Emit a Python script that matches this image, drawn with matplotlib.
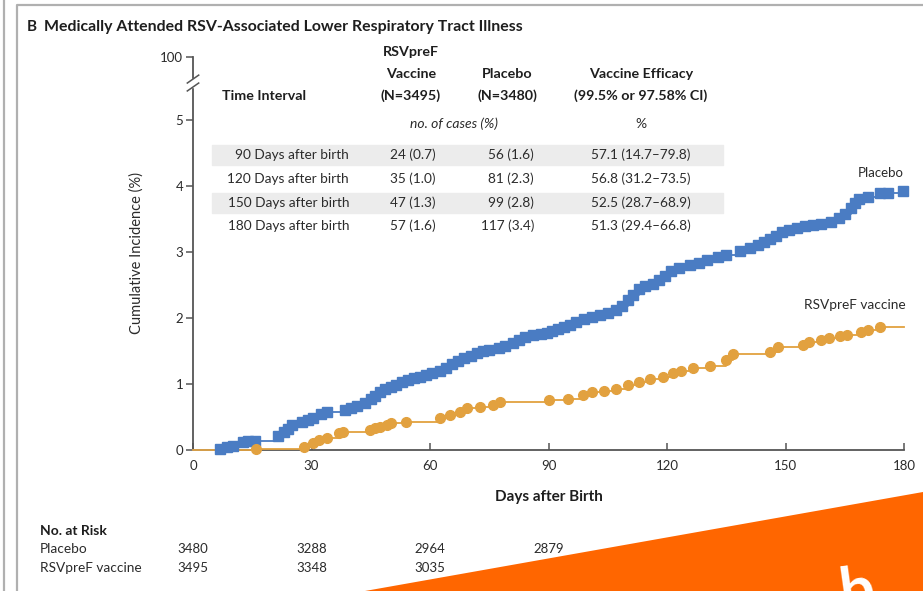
import matplotlib
matplotlib.use("Agg")
import matplotlib.pyplot as plt
from matplotlib.patches import Rectangle, Polygon
from matplotlib.lines import Line2D
import matplotlib.transforms as mtransforms

plt.rcParams['font.family'] = ['Lato', 'DejaVu Sans']

# ---------------- data ----------------
placebo_days = [6.8, 8.5, 10, 12.7, 14, 15.7, 21.5, 23, 24, 25, 27.5, 29, 30.5, 32.5, 34,
                38.5, 40, 41.5, 43.5, 45, 46, 47.3, 48.5, 50, 51.5, 53, 54.5, 56, 57.5, 59,
                60.5, 62.5, 64, 65.5, 67, 68.5, 70.5, 72, 73.5, 75, 77.5, 79, 81, 82.5, 84,
                86, 88, 89.6, 91, 92.5, 94, 95.5, 97, 99, 101, 103, 105, 107, 108.5, 110,
                111.5, 113, 114.5, 116.5, 118, 119.5, 121, 123, 125.8, 128, 130, 133, 135,
                138.5, 141, 143, 144.5, 146, 147.5, 149, 151, 153, 155, 157, 159, 161.5,
                163.5, 165, 166.5, 167.5, 168.5, 171, 174, 176, 179.7]
placebo_inc = [0.02, 0.04, 0.06, 0.12, 0.13, 0.14, 0.21, 0.27, 0.32, 0.38, 0.42, 0.45, 0.48,
               0.55, 0.58, 0.60, 0.64, 0.67, 0.71, 0.77, 0.82, 0.88, 0.92, 0.96, 0.99, 1.03,
               1.06, 1.09, 1.11, 1.14, 1.17, 1.19, 1.24, 1.30, 1.35, 1.39, 1.43, 1.47, 1.50,
               1.52, 1.55, 1.58, 1.62, 1.67, 1.71, 1.74, 1.76, 1.78, 1.80, 1.84, 1.87, 1.90,
               1.94, 1.98, 2.02, 2.05, 2.08, 2.12, 2.18, 2.27, 2.35, 2.44, 2.49, 2.52, 2.58,
               2.64, 2.71, 2.76, 2.80, 2.84, 2.88, 2.92, 2.96, 3.01, 3.06, 3.11, 3.15, 3.20,
               3.25, 3.30, 3.33, 3.36, 3.39, 3.41, 3.42, 3.46, 3.52, 3.58, 3.67, 3.75, 3.80,
               3.84, 3.89, 3.90, 3.92]

vaccine_days = [16, 28, 30.5, 32, 34, 37, 38, 44.8, 46, 47.3, 49, 50, 54, 62.5, 65, 67.6,
                69.4, 72.7, 76, 77.7, 90, 95, 98.7, 101, 104, 107, 110, 113, 115.7, 119,
                121.5, 123.5, 126.6, 131, 135, 136.7, 146, 148, 154.5, 156, 159, 161, 163.8,
                165.5, 169, 171, 174]
vaccine_inc = [0.02, 0.05, 0.10, 0.15, 0.18, 0.26, 0.28, 0.30, 0.33, 0.35, 0.38, 0.41, 0.43,
               0.48, 0.53, 0.58, 0.63, 0.65, 0.68, 0.73, 0.76, 0.78, 0.83, 0.88, 0.90, 0.93,
               0.98, 1.03, 1.08, 1.11, 1.17, 1.20, 1.24, 1.27, 1.36, 1.46, 1.48, 1.56, 1.59,
               1.64, 1.67, 1.70, 1.72, 1.75, 1.79, 1.82, 1.86]
followup_end = 180

# inset efficacy table
time_intervals = ['90 Days after birth', '120 Days after birth',
                  '150 Days after birth', '180 Days after birth']
vaccine_cases = [24, 35, 47, 57]
vaccine_pct = [0.7, 1.0, 1.3, 1.6]
placebo_cases = [56, 81, 99, 117]
placebo_pct = [1.6, 2.3, 2.8, 3.4]
efficacy = [57.1, 56.8, 52.5, 51.3]
ci_low = [14.7, 31.2, 28.7, 29.4]
ci_high = [79.8, 73.5, 68.9, 66.8]
n_vaccine = 3495
n_placebo = 3480

# number at risk
risk_days = [0, 30, 60, 90]
risk_placebo = [3480, 3288, 2964, 2879]
risk_vaccine = [3495, 3348, 3035]

x_ticks = [0, 30, 60, 90, 120, 150, 180]
y_ticks = [0, 1, 2, 3, 4, 5]
y_top_label = '100'

BLUE = '#4A7CC3'
ORANGE = '#E2A13F'
TXT = '#2b2b2b'
DARK = '#1e1e1e'

W, H = 923, 591
fig = plt.figure(figsize=(W / 100, H / 100), dpi=100)


def fx(x):
    return x / W


def fy(y):
    return 1 - y / H


# panel frame lines
fig.add_artist(Line2D([fx(4), fx(4)], [0, 1], color='#b0b0b0', lw=1.6))
fig.add_artist(Line2D([fx(17), fx(17), 1.0], [0, fy(5), fy(5)], color='#b0b0b0', lw=1.6))

# ---------------- main axes ----------------
ax_left, ax_right = 193, 904
ax_bottom, ax_top_px = 450, 57
y_top = (ax_bottom - ax_top_px) / 66.0
ax = fig.add_axes([fx(ax_left), fy(ax_bottom), fx(ax_right - ax_left),
                   (ax_bottom - ax_top_px) / H])
ax.set_xlim(0, 180)
ax.set_ylim(0, y_top)
ax.patch.set_alpha(0)

for s in ['top', 'right']:
    ax.spines[s].set_visible(False)
for s in ['left', 'bottom']:
    ax.spines[s].set_color('#555555')
    ax.spines[s].set_linewidth(1.3)

ax.set_xticks(x_ticks)
ax.set_yticks(y_ticks + [y_top])
ax.set_yticklabels([str(t) for t in y_ticks] + [y_top_label])
ax.tick_params(axis='x', direction='in', length=5, width=1.1, color='#555555',
               labelsize=9.5, labelcolor=TXT, pad=7)
ax.tick_params(axis='y', direction='out', length=5, width=1.1, color='#555555',
               labelsize=9.5, labelcolor=TXT, pad=2)

# step curves with event markers
ax.step([0] + placebo_days + [followup_end], [0] + placebo_inc + [placebo_inc[-1]],
        where='post', color=BLUE, lw=1.3, zorder=3, clip_on=False)
ax.plot(placebo_days, placebo_inc, ls='none', marker='s', ms=7, color=BLUE,
        zorder=4, clip_on=False)
ax.step([0] + vaccine_days + [followup_end], [0] + vaccine_inc + [vaccine_inc[-1]],
        where='post', color=ORANGE, lw=1.3, zorder=3, clip_on=False)
ax.plot(vaccine_days, vaccine_inc, ls='none', marker='o', ms=7, color=ORANGE,
        zorder=4, clip_on=False)

ax.text(180, placebo_inc[-1] + 0.27, 'Placebo', ha='right', va='center',
        fontsize=9.5, color=TXT)
ax.text(180.5, vaccine_inc[-1] + 0.33, 'RSVpreF vaccine', ha='right', va='center',
        fontsize=9.8, color=TXT)

# axis break marks on the y axis
brk = mtransforms.blended_transform_factory(ax.transAxes, ax.transData)
ax.add_patch(Rectangle((-0.006, 5.50), 0.012, 0.12, transform=brk, color='white',
                       zorder=5, clip_on=False))
for yb in (5.50, 5.62):
    ax.add_line(Line2D([-0.008, 0.008], [yb - 0.06, yb + 0.06], transform=brk,
                       color='#555555', lw=1.1, zorder=6, clip_on=False))

ax.set_ylabel('Cumulative Incidence (%)', fontsize=10.5, color=TXT, labelpad=12)
ax.set_xlabel('Days after Birth', fontsize=11, fontweight='bold', color=DARK,
              labelpad=13)

# ---------------- title ----------------
fig.text(fx(27), fy(27), 'B', fontsize=11, fontweight='bold', color=DARK,
         va='center', ha='left')
fig.text(fx(44), fy(27), 'Medically Attended RSV-Associated Lower Respiratory Tract Illness',
         fontsize=11.4, fontweight='bold', color=DARK, va='center', ha='left')

# ---------------- inset efficacy table ----------------
row_y = [155, 179, 203, 226]
for i, y in enumerate(row_y):
    if i % 2 == 0:
        fig.add_artist(Rectangle((fx(212), fy(y + 10)), fx(723 - 212), 20 / H,
                                 color='#ececec', zorder=0))
col_lab, col_vac, col_pla, col_eff = 349, 436, 534, 641

hdr = dict(fontsize=10.3, fontweight='bold', color=DARK, va='center')
fig.text(fx(222), fy(96), 'Time Interval', ha='left', **hdr)
fig.text(fx(411), fy(52), 'RSVpreF', ha='center', **hdr)
fig.text(fx(411), fy(74), 'Vaccine', ha='center', **hdr)
fig.text(fx(411), fy(96), f'(N={n_vaccine})', ha='center', **hdr)
fig.text(fx(507), fy(74), 'Placebo', ha='center', **hdr)
fig.text(fx(507), fy(96), f'(N={n_placebo})', ha='center', **hdr)
fig.text(fx(641), fy(74), 'Vaccine Efficacy', ha='center', **hdr)
fig.text(fx(641), fy(96), '(99.5% or 97.58% CI)', ha='center', **hdr)
fig.text(fx(454), fy(124), 'no. of cases (%)', ha='center', va='center',
         fontsize=10, style='italic', color=TXT)
fig.text(fx(641), fy(124), '%', ha='center', va='center', fontsize=10, color=TXT)

cell = dict(fontsize=9.8, color=TXT, va='center')
for i, y in enumerate(row_y):
    fig.text(fx(col_lab), fy(y), time_intervals[i], ha='right', **cell)
    fig.text(fx(col_vac), fy(y), f'{vaccine_cases[i]} ({vaccine_pct[i]:.1f})', ha='right', **cell)
    fig.text(fx(col_pla), fy(y), f'{placebo_cases[i]} ({placebo_pct[i]:.1f})', ha='right', **cell)
    fig.text(fx(col_eff), fy(y),
             f'{efficacy[i]:.1f} ({ci_low[i]:.1f}\u2013{ci_high[i]:.1f})', ha='center', **cell)

# ---------------- number at risk ----------------
risk_tr = mtransforms.blended_transform_factory(ax.transData, fig.transFigure)
fig.text(fx(40), fy(531), 'No. at Risk', fontsize=10, fontweight='bold', color=DARK,
         va='center', ha='left')
fig.text(fx(40), fy(549), 'Placebo', fontsize=9.8, color=TXT, va='center', ha='left')
fig.text(fx(40), fy(568), 'RSVpreF vaccine', fontsize=9.8, color=TXT, va='center', ha='left')
for d, n in zip(risk_days, risk_placebo):
    ax.text(d, fy(549), str(n), transform=risk_tr, ha='center', va='center',
            fontsize=9.5, color=TXT, clip_on=False)
for d, n in zip(risk_days, risk_vaccine):
    ax.text(d, fy(568), str(n), transform=risk_tr, ha='center', va='center',
            fontsize=9.5, color=TXT, clip_on=False)

# ---------------- orange corner banner ----------------
fig.add_artist(Polygon([(fx(365), 0), (1.0, fy(492)), (1.0, 0)], closed=True,
                       facecolor='#FF6600', edgecolor='none', zorder=10))
fig.text(fx(836), fy(612), 'b', fontsize=44, fontweight='bold', color='white',
         ha='left', va='baseline', rotation=8, zorder=11)

fig.savefig('out.png', dpi=100)
